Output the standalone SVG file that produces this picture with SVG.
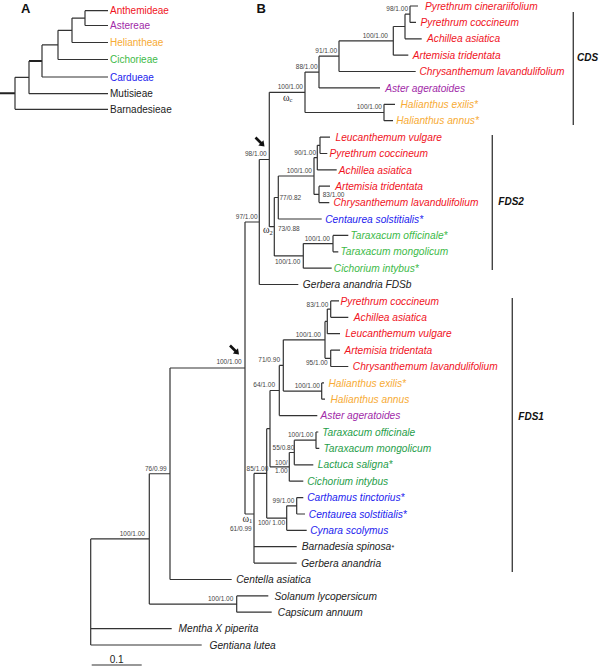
<svg xmlns="http://www.w3.org/2000/svg" xmlns:xlink="http://www.w3.org/1999/xlink" width="600" height="667" viewBox="0 0 600 667">
<style>
.br{stroke:#333;stroke-width:1.2;fill:none}
.thk{stroke:#222;stroke-width:2;fill:none}
.bar{stroke:#444;stroke-width:1.4;fill:none}
.tx{font-family:"Liberation Sans",Arial,sans-serif;font-size:10.2px;font-style:italic}
.ta{font-family:"Liberation Sans",Arial,sans-serif;font-size:10px}
.s{font-family:"Liberation Sans",Arial,sans-serif;font-size:6.5px;fill:#444}
.se{text-anchor:end}
.om{font-family:"Liberation Serif","Times New Roman",serif;font-size:10px;fill:#222}
.pl{font-family:"Liberation Sans",Arial,sans-serif;font-size:13px;font-weight:bold;fill:#111}
.cl{font-family:"Liberation Sans",Arial,sans-serif;font-size:10px;font-weight:bold;font-style:italic;fill:#111}
.red{fill:#f0141e}.pur{fill:#a12aa8}.org{fill:#f7ab35}.grn{fill:#3dba48}.gr2{fill:#1f9e4a}.blu{fill:#2323ee}.blk{fill:#222}
</style>
<defs>
<g id="arrow"><path d="M0,0 L-6.2,-1 L-1,-6.2 Z" fill="#111"/><path d="M-3,-3 L-9,-9" stroke="#111" stroke-width="2.6"/></g>
</defs>

<g id="connectors">
<!-- panel A -->
<path class="thk" d="M0,93.3 H15 M29,61 H42"/>
<path class="br" d="M15,77.3 V109.3 M15,109.3 H108 M15,77.3 H29 M29,61 V93.7 M29,93.7 H108 M42,44.9 V77 M42,77 H108 M42,44.9 H58 M58,30.3 V59.5 M58,59.5 H108 M58,30.3 H72 M72,18.1 V42.5 M72,42.5 H108 M72,18.1 H85 M85,10.7 V25.5 M85,10.7 H108 M85,25.5 H108"/>
<!-- CDS -->
<path class="br" d="M269.3,92.3 H305 M305,72.05 V112.5 M305,72.05 H319 M319,56.2 V87.9 M319,87.9 H380 M319,56.2 H339 M339,40.85 V71.5 M339,71.5 H415.7 M339,40.85 H393.3 M393.3,26.5 V55.2 M393.3,55.2 H408.3 M393.3,26.5 H405 M405,14.2 V38.8 M405,38.8 H421.7 M405,14.2 H410 M410,6 V22.4 M410,6 H418 M410,22.4 H416 M305,112.5 H384 M384,104.3 V120.7 M384,104.3 H395 M384,120.7 H393"/>
<!-- FDS2 -->
<path class="br" d="M259.3,159.5 H269.3 M269.3,92.3 V226.7 M269.3,226.7 H274.3 M274.3,197.5 V255.9 M274.3,197.5 H278.3 M278.3,176 V219 M278.3,219 H321.7 M278.3,176 H314 M314,157.6 V194.4 M314,157.6 H317.3 M317.3,145.3 V169.9 M317.3,169.9 H336.7 M317.3,145.3 H320 M320,137.1 V153.5 M320,137.1 H330 M320,153.5 H327.3 M314,194.4 H319 M319,186.2 V202.6 M319,186.2 H330 M319,202.6 H329.3 M274.3,255.9 H303.3 M303.3,243.6 V268.2 M303.3,268.2 H331.7 M303.3,243.6 H333 M333,235.4 V251.8 M333,235.4 H348.3 M333,251.8 H338.3 M245,222 H259.3 M259.3,159.5 V284.5 M259.3,284.5 H298.3"/>
<!-- FDS1 -->
<path class="br" d="M170,368 H245 M245,222 V514 M245,514 H254 M254,473.4 V563.1 M254,546.7 H296.7 M254,563.1 H296.7 M254,473.4 H266.7 M266.7,428.7 V518.05 M266.7,428.7 H270 M270,390.5 V466.85 M270,390.5 H279.3 M279.3,365.45 V415.6 M279.3,415.6 H317.3 M279.3,365.45 H283.3 M283.3,339.85 V391.05 M283.3,339.85 H325 M325,321.4 V358.3 M325,321.4 H327.3 M327.3,309.1 V333.7 M327.3,333.7 H340 M327.3,309.1 H330.7 M330.7,300.9 V317.3 M330.7,300.9 H339 M330.7,317.3 H348.3 M325,358.3 H330.7 M330.7,350.1 V366.5 M330.7,350.1 H340 M330.7,366.5 H348.3 M283.3,391.05 H321.7 M321.7,382.9 V399.2 M321.7,382.9 H324 M321.7,399.2 H325 M270,466.85 H289.3 M289.3,452.5 V481.2 M289.3,481.2 H303.3 M289.3,452.5 H294.3 M294.3,440.2 V464.8 M294.3,464.8 H313.3 M294.3,440.2 H316 M316,432 V448.4 M316,432 H318.3 M316,448.4 H319.3 M266.7,518.05 H286.7 M286.7,505.8 V530.3 M286.7,530.3 H306.7 M286.7,505.8 H296.7 M296.7,497.6 V514 M296.7,497.6 H303.3 M296.7,514 H305"/>
<!-- outgroups -->
<path class="br" d="M149.3,473.75 H170 M170,368 V579.5 M170,579.5 H231.7 M149.3,473.75 V604.05 M149.3,604.05 H236.7 M236.7,595.9 V612.2 M236.7,595.9 H268.3 M236.7,612.2 H271.7 M90.7,538.9 H149.3 M90.7,538.9 V645 M90.7,628.6 H171.7 M90.7,645 H201.7"/>
<!-- scale bar -->
<path class="br" d="M91.7,665 H141.7"/>
<!-- clade bars -->
<path class="bar" d="M573.3,12 V125 M492.3,135 V270 M512.3,298 V572"/>
<use xlink:href="#arrow" x="264.5" y="146.5"/>
<use xlink:href="#arrow" x="239" y="354.5"/>
</g>

<g id="panel-labels">
<text class="pl" x="21" y="13.3">A</text>
<text class="pl" x="256.5" y="13.3">B</text>
</g>

<g id="tribe-anthemideae"><text class="ta red" x="110" y="14.3">Anthemideae</text></g>
<g id="tribe-astereae"><text class="ta pur" x="110" y="29.1">Astereae</text></g>
<g id="tribe-heliantheae"><text class="ta org" x="110" y="46.1">Heliantheae</text></g>
<g id="tribe-cichorieae"><text class="ta grn" x="110" y="63.1">Cichorieae</text></g>
<g id="tribe-cardueae"><text class="ta blu" x="110" y="80.6">Cardueae</text></g>
<g id="tribe-mutisieae"><text class="ta blk" x="110" y="97.3">Mutisieae</text></g>
<g id="tribe-barnadesieae"><text class="ta blk" x="110" y="112.9">Barnadesieae</text></g>

<g id="cds-pyr-cin"><text class="tx red" x="425" y="9.6">Pyrethrum cinerariifolium</text></g>
<g id="cds-pyr-coc"><text class="tx red" x="420.5" y="26">Pyrethrum coccineum</text></g>
<g id="cds-ach"><text class="tx red" x="427" y="42.4">Achillea asiatica</text></g>
<g id="cds-art"><text class="tx red" x="412.8" y="58.8">Artemisia tridentata</text></g>
<g id="cds-chr"><text class="tx red" x="419.5" y="75.1">Chrysanthemum lavandulifolium</text></g>
<g id="cds-ast"><text class="tx pur" x="385.2" y="91.5">Aster ageratoides</text></g>
<g id="cds-hel-ex"><text class="tx org" x="400.5" y="107.9">Halianthus exilis*</text></g>
<g id="cds-hel-an"><text class="tx org" x="396.2" y="124.3">Halianthus annus*</text></g>

<g id="fds2-leu"><text class="tx red" x="335.5" y="140.7">Leucanthemum vulgare</text></g>
<g id="fds2-pyr"><text class="tx red" x="329.5" y="157.1">Pyrethrum coccineum</text></g>
<g id="fds2-ach"><text class="tx red" x="338.8" y="173.5">Achillea asiatica</text></g>
<g id="fds2-art"><text class="tx red" x="335.2" y="189.8">Artemisia tridentata</text></g>
<g id="fds2-chr"><text class="tx red" x="333.5" y="206.2">Chrysanthemum lavandulifolium</text></g>
<g id="fds2-cen"><text class="tx blu" x="325.2" y="222.6">Centaurea solstitialis*</text></g>
<g id="fds2-tar-off"><text class="tx grn" x="350.5" y="239">Taraxacum officinale*</text></g>
<g id="fds2-tar-mon"><text class="tx grn" x="340.5" y="255.4">Taraxacum mongolicum</text></g>
<g id="fds2-cic"><text class="tx grn" x="333.8" y="271.8">Cichorium intybus*</text></g>
<g id="fdsb-ger"><text class="tx blk" x="302.8" y="288.1">Gerbera anandria FDSb</text></g>

<g id="fds1-pyr"><text class="tx red" x="340.5" y="304.5">Pyrethrum coccineum</text></g>
<g id="fds1-ach"><text class="tx red" x="353.8" y="320.9">Achillea asiatica</text></g>
<g id="fds1-leu"><text class="tx red" x="345.2" y="337.3">Leucanthemum vulgare</text></g>
<g id="fds1-art"><text class="tx red" x="344.5" y="353.7">Artemisia tridentata</text></g>
<g id="fds1-chr"><text class="tx red" x="352.8" y="370.1">Chrysanthemum lavandulifolium</text></g>
<g id="fds1-hel-ex"><text class="tx org" x="328.5" y="386.5">Halianthus exilis*</text></g>
<g id="fds1-hel-an"><text class="tx org" x="330.5" y="402.8">Halianthus annus</text></g>
<g id="fds1-ast"><text class="tx pur" x="320.5" y="419.2">Aster ageratoides</text></g>
<g id="fds1-tar-off"><text class="tx gr2" x="322.2" y="435.6">Taraxacum officinale</text></g>
<g id="fds1-tar-mon"><text class="tx gr2" x="323.5" y="452">Taraxacum mongolicum</text></g>
<g id="fds1-lac"><text class="tx gr2" x="317.8" y="468.4">Lactuca saligna*</text></g>
<g id="fds1-cic"><text class="tx gr2" x="307.2" y="484.8">Cichorium intybus</text></g>
<g id="fds1-car"><text class="tx blu" x="307.2" y="501.2">Carthamus tinctorius*</text></g>
<g id="fds1-cen"><text class="tx blu" x="308.8" y="517.6">Centaurea solstitialis*</text></g>
<g id="fds1-cyn"><text class="tx blu" x="310.2" y="533.9">Cynara scolymus</text></g>
<g id="fds1-bar"><text class="tx blk" x="301.8" y="550.3">Barnadesia spinosa<tspan font-size="7">*</tspan></text></g>
<g id="fds1-ger"><text class="tx blk" x="301.2" y="566.7">Gerbera anandria</text></g>

<g id="out-cen"><text class="tx blk" x="236.2" y="583.1">Centella asiatica</text></g>
<g id="out-sol"><text class="tx blk" x="274.5" y="599.5">Solanum lycopersicum</text></g>
<g id="out-cap"><text class="tx blk" x="277.8" y="615.8">Capsicum annuum</text></g>
<g id="out-men"><text class="tx blk" x="178.5" y="632.2">Mentha X piperita</text></g>
<g id="out-gen"><text class="tx blk" x="209.5" y="648.6">Gentiana lutea</text></g>

<g id="clade-labels">
<text class="cl" x="577" y="60.6">CDS</text>
<text class="cl" x="498.3" y="205.3">FDS2</text>
<text class="cl" x="518.3" y="420.3">FDS1</text>
</g>

<g id="support-values">
<text class="s se" x="408" y="10.8">98/1.00</text>
<text class="s se" x="388" y="37.8">100/1.00</text>
<text class="s se" x="337" y="53.3">91/1.00</text>
<text class="s se" x="317.5" y="68.8">88/1.00</text>
<text class="s se" x="303" y="89.3">100/1.00</text>
<text class="s se" x="382" y="109.3">100/1.00</text>
<text class="s se" x="266.7" y="155.6">98/1.00</text>
<text class="s se" x="316" y="154.6">90/1.00</text>
<text class="s se" x="312" y="173">100/1.00</text>
<text class="s" x="322.7" y="196.7">83/1.00</text>
<text class="s" x="279.5" y="199.8">77/0.82</text>
<text class="s" x="278" y="230.8">73/0.88</text>
<text class="s se" x="330" y="240.6">100/1.00</text>
<text class="s" x="275" y="264">100/1.00</text>
<text class="s se" x="257.5" y="218.6">97/1.00</text>
<text class="s se" x="328.3" y="306.6">83/1.00</text>
<text class="s se" x="321" y="336.6">100/1.00</text>
<text class="s se" x="327.7" y="365">95/1.00</text>
<text class="s se" x="280" y="361.8">71/0.90</text>
<text class="s se" x="320" y="388.3">100/1.00</text>
<text class="s se" x="275" y="386.8">64/1.00</text>
<text class="s se" x="313.3" y="437.3">100/1.00</text>
<text class="s se" x="294.3" y="450.3">55/0.80</text>
<text class="s" x="275" y="465">100/</text>
<text class="s" x="275" y="473.3">1.00</text>
<text class="s se" x="268.3" y="470.6">85/1.00</text>
<text class="s se" x="294.3" y="503.3">99/1.00</text>
<text class="s se" x="285" y="524.8">100/ 1.00</text>
<text class="s se" x="251.7" y="530.8">61/0.99</text>
<text class="s se" x="241.7" y="364">100/1.00</text>
<text class="s se" x="166.7" y="470.6">76/0.99</text>
<text class="s se" x="233.3" y="600.8">100/1.00</text>
<text class="s se" x="145" y="535.6">100/1.00</text>
</g>

<g id="omega-labels">
<text class="om" x="283" y="100.5">ω<tspan font-size="6.5" dy="1.5">c</tspan></text>
<text class="om" x="263" y="233">ω<tspan font-size="6.5" dy="1.5">2</tspan></text>
<text class="om" x="242.5" y="521.5">ω<tspan font-size="6.5" dy="1.5">1</tspan></text>
</g>

<g id="scale-label"><text class="ta blk" x="116.7" y="662.5" text-anchor="middle" font-size="9">0.1</text></g>
</svg>
